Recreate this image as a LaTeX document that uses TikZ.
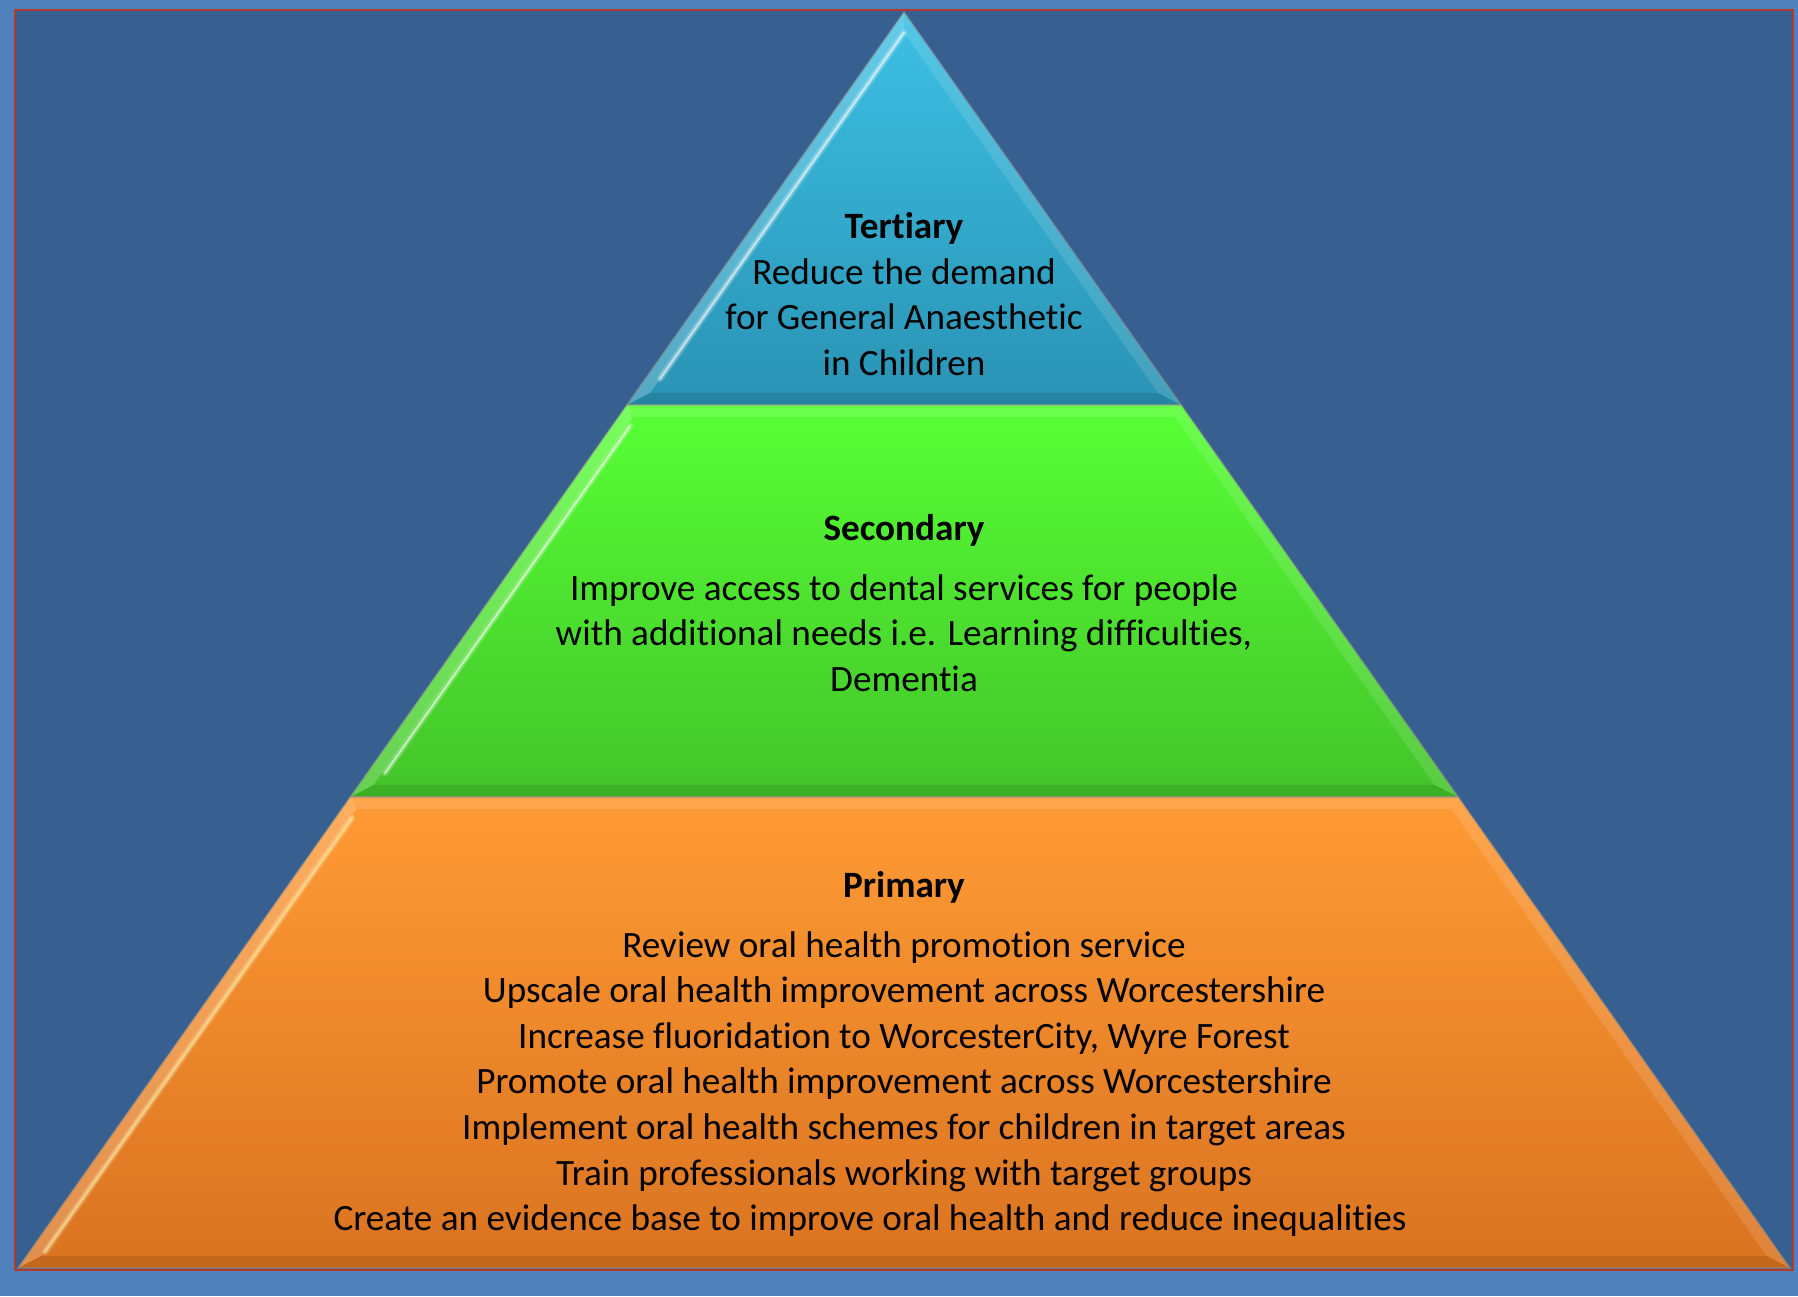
\documentclass[tikz,border=0pt]{standalone}
\usepackage{fontspec}
\setmainfont{Carlito}[Ligatures={NoCommon}]
\definecolor{pageblue}{HTML}{4F81BD}
\definecolor{slateblue}{HTML}{375F8F}
\definecolor{frame}{HTML}{B03A2E}
\definecolor{tertTop}{HTML}{3CC0E4}
\definecolor{tertBot}{HTML}{2A93B4}
\definecolor{secTop}{HTML}{57FF35}
\definecolor{secBot}{HTML}{43C42A}
\definecolor{priTop}{HTML}{FF9B35}
\definecolor{priBot}{HTML}{DA7320}
\begin{document}
\begin{tikzpicture}[x=0.5pt,y=0.5pt,
  lbl/.style={font=\fontsize{18.6}{22.8}\selectfont, align=center, inner sep=0pt, text=black},
  ttl/.style={lbl, font=\fontsize{18.6}{22.8}\selectfont\bfseries},
  rim/.style={draw=black!45, draw opacity=0.5, line width=0.8pt},
  lightside/.style={fill=white, fill opacity=0.20},
  softside/.style={fill=white, fill opacity=0.12},
  darkside/.style={fill=black, fill opacity=0.10},
  glow/.style={draw=white, draw opacity=0.22, line width=3.2pt, line cap=round},
  shine/.style={draw=white, draw opacity=0.55, line width=1.2pt, line cap=round}]
\useasboundingbox (0,0) rectangle (1798,1296);
% page and framed panel
\fill[pageblue] (0,0) rectangle (1798,1296);
\fill[slateblue] (15,26) rectangle (1793,1286);
\draw[frame, line width=1.1pt] (15,26) rectangle (1793,1286);

% ---- tertiary (apex) ----
\shade[top color=tertTop, bottom color=tertBot] (904,1284) -- (1181.2,891) -- (626.8,891) -- cycle;
\fill[lightside] (904,1284) -- (904,1263.2) -- (649.9,903) -- (626.8,891) -- cycle;
\fill[softside] (904,1284) -- (1181.2,891) -- (1158.1,903) -- (904,1263.2) -- cycle;
\fill[darkside] (626.8,891) -- (649.9,903) -- (1158.1,903) -- (1181.2,891) -- cycle;
\draw[glow] (904,1263.2) -- (660,917);
\draw[shine] (904,1263.2) -- (660,917);
\draw[rim] (904,1284) -- (1181.2,891) -- (626.8,891) -- cycle;

% ---- secondary (middle band) ----
\shade[top color=secTop, bottom color=secBot] (626.8,891) -- (1181.2,891) -- (1458.25,499) -- (350.25,499) -- cycle;
\fill[softside] (626.8,891) -- (1181.2,891) -- (1175,879) -- (633,879) -- cycle;
\fill[lightside] (626.8,891) -- (633,879) -- (373.4,511) -- (350.25,499) -- cycle;
\fill[softside] (1181.2,891) -- (1458.25,499) -- (1434.6,511) -- (1175,879) -- cycle;
\fill[darkside] (350.25,499) -- (373.4,511) -- (1434.6,511) -- (1458.25,499) -- cycle;
\draw[glow] (630,870) -- (385,523);
\draw[shine] (630,870) -- (385,523);
\draw[rim] (626.8,891) -- (1181.2,891) -- (1458.25,499) -- (350.25,499) -- cycle;

% ---- primary (base band) ----
\shade[top color=priTop, bottom color=priBot] (350.25,499) -- (1458.25,499) -- (1790,28) -- (18,28) -- cycle;
\fill[softside] (350.25,499) -- (1458.25,499) -- (1451.5,487) -- (356.5,487) -- cycle;
\fill[lightside] (350.25,499) -- (356.5,487) -- (41.2,40) -- (18,28) -- cycle;
\fill[softside] (1458.25,499) -- (1790,28) -- (1766.8,40) -- (1451.5,487) -- cycle;
\fill[darkside] (18,28) -- (41.2,40) -- (1766.8,40) -- (1790,28) -- cycle;
\draw[glow] (352,478) -- (45,44);
\draw[shine, draw=yellow!40!white] (352,478) -- (45,44);
\draw[rim] (350.25,499) -- (1458.25,499) -- (1790,28) -- (18,28) -- cycle;

% ---- texts ----
\node[lbl] (tertiary) at (904,1002) {\textbf{Tertiary}\\Reduce the demand\\for General Anaesthetic\\in Children};

\node[ttl] (secTitle) at (904,766) {Secondary};
\node[lbl] (secBody) at (904,663) {Improve access to dental services for people\\with additional needs i.e. Learning difficulties,\\Dementia};

\node[ttl] (priTitle) at (904,409) {Primary};
\node[lbl] (priBody) at (904,212) {Review oral health promotion service\\
Upscale oral health improvement across Worcestershire\\
Increase fluoridation to WorcesterCity, Wyre Forest\\
Promote oral health improvement across Worcestershire\\
Implement oral health schemes for children in target areas\\
Train professionals working with target groups\\
Create an evidence base to improve oral health and reduce inequalities\hspace*{34pt}};
\end{tikzpicture}
\end{document}
